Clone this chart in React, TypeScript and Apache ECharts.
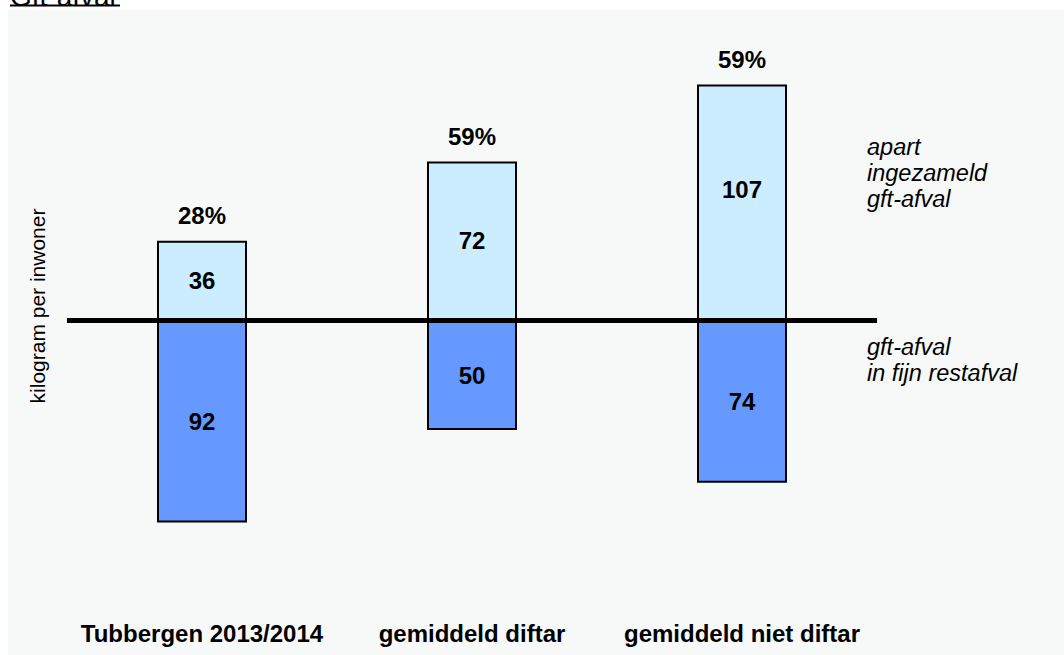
import React, { useEffect, useRef } from "react";
import * as echarts from "echarts";

const categories = ["Tubbergen 2013/2014", "gemiddeld diftar", "gemiddeld niet diftar"];
const apartIngezameld = [36, 72, 107];
const inFijnRestafval = [92, 50, 74];
const percentLabels = ["28%", "59%", "59%"];
const yAxisName = "kilogram per inwoner";
const upperNote = ["apart", "ingezameld", "gft-afval"];
const lowerNote = ["gft-afval", "in fijn restafval"];
const title = "Gft-afval";

const FONT = "'Liberation Sans', Arial, Helvetica, sans-serif";

export default function App() {
  const ref = useRef<HTMLDivElement>(null);
  useEffect(() => {
    if (!ref.current) return;
    const chart = echarts.init(ref.current, undefined, { renderer: "svg" });
    chart.setOption({
      animation: false,
      backgroundColor: "#ffffff",
      textStyle: { fontFamily: FONT },
      grid: { left: 67, right: 187, top: 12, bottom: 49 },
      xAxis: {
        type: "category",
        data: categories,
        axisLine: { show: false },
        axisTick: { show: false },
        axisLabel: {
          interval: 0,
          margin: 15,
          fontSize: 24,
          fontWeight: "bold",
          color: "#000",
          fontFamily: FONT,
        },
        splitLine: { show: false },
      },
      yAxis: {
        type: "value",
        min: -130,
        max: 140,
        show: false,
        splitLine: { show: false },
      },
      graphic: [
        {
          type: "rect",
          z: -10,
          silent: true,
          shape: { x: 8, y: 10, width: 1056, height: 645 },
          style: { fill: "#f7f9f9" },
        },
        {
          type: "text",
          x: 10,
          y: 10,
          style: {
            text: title,
            font: `28px ${FONT}`,
            fill: "#000",
            textVerticalAlign: "bottom",
          },
        },
        {
          type: "line",
          shape: { x1: 10, y1: 5.5, x2: 120, y2: 5.5 },
          style: { stroke: "#000", lineWidth: 2 },
        },
        {
          type: "text",
          x: 37,
          y: 306,
          rotation: Math.PI / 2,
          style: {
            text: yAxisName,
            font: `21px ${FONT}`,
            fill: "#000",
            textAlign: "center",
            textVerticalAlign: "middle",
          },
        },
        {
          type: "text",
          x: 867,
          y: 134,
          style: {
            text: upperNote.join("\n"),
            font: `italic 23.5px ${FONT}`,
            lineHeight: 26,
            fill: "#000",
            textAlign: "left",
            textVerticalAlign: "top",
          },
        },
        {
          type: "text",
          x: 867,
          y: 334,
          style: {
            text: lowerNote.join("\n"),
            font: `italic 23.5px ${FONT}`,
            lineHeight: 26,
            fill: "#000",
            textAlign: "left",
            textVerticalAlign: "top",
          },
        },
      ],
      series: [
        {
          name: "apart ingezameld gft-afval",
          type: "bar",
          stack: "gft",
          barWidth: 90,
          data: apartIngezameld.map((v, i) =>
            i === 2 ? { value: v, label: { offset: [0, -13] } } : v
          ),
          itemStyle: { color: "#CCECFF", borderColor: "#000", borderWidth: 2 },
          label: {
            show: true,
            position: "inside",
            fontSize: 24,
            fontWeight: "bold",
            color: "#000",
            fontFamily: FONT,
          },
        },
        {
          name: "gft-afval in fijn restafval",
          type: "bar",
          stack: "gft",
          barWidth: 90,
          data: inFijnRestafval.map((v) => -v),
          itemStyle: { color: "#6699FF", borderColor: "#000", borderWidth: 2 },
          label: {
            show: true,
            position: "inside",
            fontSize: 24,
            fontWeight: "bold",
            color: "#000",
            fontFamily: FONT,
            formatter: (p: any) => String(Math.abs(p.value)),
          },
          markLine: {
            silent: true,
            symbol: "none",
            z: 10,
            label: { show: false },
            lineStyle: { color: "#000", width: 5, type: "solid" },
            data: [{ yAxis: 0 }],
          },
        },
        {
          name: "aandeel",
          type: "scatter",
          data: apartIngezameld,
          symbolSize: 0,
          itemStyle: { color: "#000", opacity: 1 },
          z: 5,
          label: {
            show: true,
            position: "top",
            distance: 13,
            fontSize: 24,
            fontWeight: "bold",
            color: "#000",
            fontFamily: FONT,
            formatter: (p: any) => percentLabels[p.dataIndex],
          },
        },
      ],
    });
    return () => chart.dispose();
  }, []);
  return (
    <div
      ref={ref}
      style={{ position: "absolute", left: 0, top: 0, width: 1064, height: 655 }}
    />
  );
}
